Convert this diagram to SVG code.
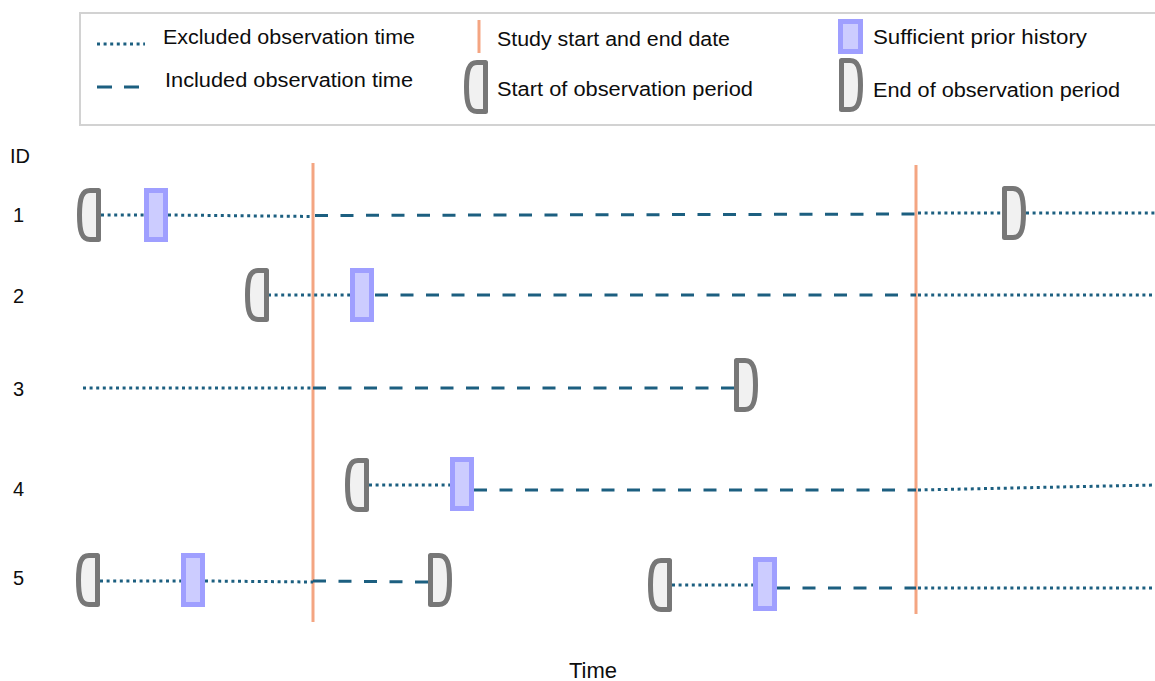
<svg xmlns="http://www.w3.org/2000/svg" xmlns:xlink="http://www.w3.org/1999/xlink" width="1155" height="681" viewBox="0 0 1155 681">
  <style>
    text { font-family: "Liberation Sans", Arial, sans-serif; fill: #0d0d0d; }
    .lbl { font-size: 20px; }
    .axis { font-size: 20px; }
    .excl { fill: none; stroke: #1c5f80; stroke-width: 3; stroke-dasharray: 3 3.6; }
    .incl { fill: none; stroke: #1c5f80; stroke-width: 3; stroke-dasharray: 13 12.5; }
    .study { stroke: #f4a582; stroke-width: 3; }
    .bracket { fill: #f1f1f1; stroke: #777777; stroke-width: 5; stroke-linejoin: round; }
    .prior { fill: #ccccff; stroke: #9f9fff; stroke-width: 5; }
  </style>
  <defs>
    <!-- start of observation period: straight right side, curved left side -->
    <path id="obsStart" class="bracket" d="M21.5,2.5 H13 C5,2.5 2.5,10 2.5,27 C2.5,44 5,51.5 13,51.5 H21.5 Z"/>
    <!-- end of observation period: straight left side, curved right side -->
    <path id="obsEnd" class="bracket" d="M2.5,2.5 H11 C19,2.5 21.5,10 21.5,27 C21.5,44 19,51.5 11,51.5 H2.5 Z"/>
    <!-- sufficient prior history marker -->
    <rect id="prior" class="prior" x="2.5" y="2.5" width="19" height="49"/>
  </defs>

  <rect width="1155" height="681" fill="#ffffff"/>

  <!-- legend -->
  <g id="legend">
    <rect x="80" y="13" width="1090" height="112" fill="#ffffff" stroke="#d2d2d2" stroke-width="2"/>
    <line class="excl" x1="97" y1="44" x2="145" y2="44"/>
    <text class="lbl" x="163" y="44" textLength="252" lengthAdjust="spacingAndGlyphs">Excluded observation time</text>
    <line x1="97" y1="87" x2="141" y2="87" stroke="#1c5f80" stroke-width="3" stroke-dasharray="15 12"/>
    <text class="lbl" x="165" y="87" textLength="248" lengthAdjust="spacingAndGlyphs">Included observation time</text>
    <line class="study" x1="479" y1="20" x2="479" y2="53"/>
    <text class="lbl" x="497" y="46" textLength="233" lengthAdjust="spacingAndGlyphs">Study start and end date</text>
    <use href="#obsStart" x="464" y="60"/>
    <text class="lbl" x="497" y="96" textLength="256" lengthAdjust="spacingAndGlyphs">Start of observation period</text>
    <rect class="prior" x="840.5" y="21.5" width="20" height="30"/>
    <text class="lbl" x="873" y="44" textLength="214" lengthAdjust="spacingAndGlyphs">Sufficient prior history</text>
    <use href="#obsEnd" x="839" y="58"/>
    <text class="lbl" x="873" y="97" textLength="247" lengthAdjust="spacingAndGlyphs">End of observation period</text>
  </g>

  <!-- axis labels -->
  <g id="labels">
    <text class="axis" x="10" y="163">ID</text>
    <text class="axis" x="13" y="222">1</text>
    <text class="axis" x="13" y="303">2</text>
    <text class="axis" x="13" y="396">3</text>
    <text class="axis" x="13" y="496">4</text>
    <text class="axis" x="13" y="585">5</text>
    <text x="593" y="678" font-size="22" text-anchor="middle">Time</text>
  </g>

  <!-- study start and end dates -->
  <g id="study-dates">
    <line class="study" x1="313" y1="163" x2="313" y2="622"/>
    <line class="study" x1="916" y1="165" x2="916" y2="614"/>
  </g>

  <!-- observation time segments -->
  <g id="connectors">
    <!-- ID 1 -->
    <line class="excl" x1="101" y1="215" x2="144" y2="215"/>
    <line class="excl" x1="168" y1="215" x2="313" y2="216.5"/>
    <line class="incl" x1="315" y1="215.5" x2="916" y2="214"/>
    <line class="excl" x1="918" y1="213" x2="1002" y2="213"/>
    <line class="excl" x1="1026" y1="213" x2="1155" y2="213"/>
    <!-- ID 2 -->
    <line class="excl" x1="268" y1="295" x2="350" y2="295"/>
    <line class="incl" x1="375" y1="295" x2="916" y2="295"/>
    <line class="excl" x1="918" y1="295" x2="1155" y2="295"/>
    <!-- ID 3 -->
    <line class="excl" x1="83" y1="388" x2="313" y2="388"/>
    <line class="incl" x1="313" y1="388" x2="735" y2="388"/>
    <!-- ID 4 -->
    <line class="excl" x1="369" y1="485" x2="450" y2="485"/>
    <line class="incl" x1="474" y1="490" x2="916" y2="490"/>
    <line class="excl" x1="918" y1="490" x2="1155" y2="485"/>
    <!-- ID 5 -->
    <line class="excl" x1="100" y1="581" x2="181" y2="581"/>
    <line class="excl" x1="205" y1="581" x2="313" y2="582"/>
    <line class="incl" x1="313" y1="581" x2="429" y2="582"/>
    <line class="excl" x1="672" y1="585" x2="753" y2="585"/>
    <line class="incl" x1="777" y1="588" x2="916" y2="588"/>
    <line class="excl" x1="918" y1="588" x2="1155" y2="588"/>
  </g>

  <!-- markers -->
  <g id="id1-start"><use href="#obsStart" x="77" y="188"/></g>
  <g id="id1-prior"><use href="#prior" x="144" y="188"/></g>
  <g id="id1-end"><use href="#obsEnd" x="1002" y="186"/></g>

  <g id="id2-start"><use href="#obsStart" x="245" y="268"/></g>
  <g id="id2-prior"><use href="#prior" x="350" y="268"/></g>

  <g id="id3-end"><use href="#obsEnd" x="734" y="358"/></g>

  <g id="id4-start"><use href="#obsStart" x="345" y="458"/></g>
  <g id="id4-prior"><use href="#prior" x="450" y="457"/></g>

  <g id="id5-start-a"><use href="#obsStart" x="76" y="553"/></g>
  <g id="id5-prior-a"><use href="#prior" x="181" y="553"/></g>
  <g id="id5-end-a"><use href="#obsEnd" x="428" y="553"/></g>
  <g id="id5-start-b"><use href="#obsStart" x="648" y="558"/></g>
  <g id="id5-prior-b"><use href="#prior" x="753" y="557"/></g>
</svg>
